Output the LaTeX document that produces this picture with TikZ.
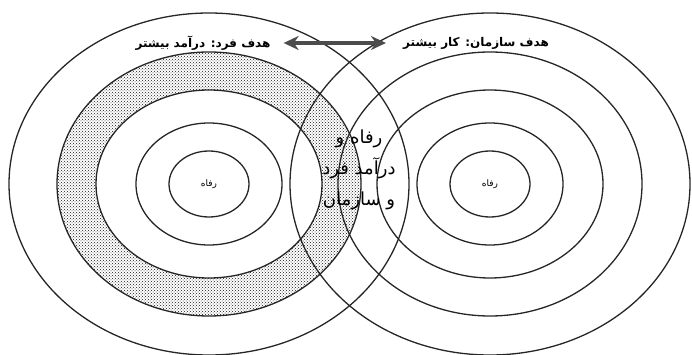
\documentclass[tikz,border=0pt]{standalone}
\usepackage{fontspec}
\newfontfamily\arabicfont[Script=Arabic]{DejaVu Sans}
\TeXXeTstate=1
\usetikzlibrary{arrows.meta, patterns}

\tikzset{
  ring/.style={line width=1.3pt, black!85},
  goal/.style={font=\arabicfont\bfseries\fontsize{12}{14}\selectfont, inner sep=2pt},
  welf/.style={font=\arabicfont\fontsize{9}{10}\selectfont},
  bothways/.style={{Stealth[length=15pt, width=14pt]}-{Stealth[length=15pt, width=14pt]},
    line width=3.8pt, black!70}
}

\begin{document}
\begin{tikzpicture}[x=1pt, y=-1pt]
  \useasboundingbox (0,0) rectangle (692,355);
  \coordinate (cL) at (209,184);
  \coordinate (cR) at (490,184);

  % dotted ring of the left target
  \fill[pattern=crosshatch dots, pattern color=black!90, even odd rule]
    (cL) ellipse [x radius=152, y radius=132]
    (cL) ellipse [x radius=113, y radius=94];

  % concentric rings
  \foreach \rx/\ry in {40/33, 73/61, 113/94, 152/132, 200/171} {
    \draw[ring] (cL) ellipse [x radius=\rx, y radius=\ry];
    \draw[ring] (cR) ellipse [x radius=\rx, y radius=\ry];
  }

  \node[welf] (welfL) at (cL) {\beginR رفاه\endR};
  \node[welf] (welfR) at (cR) {\beginR رفاه\endR};

  \node[goal] (goalP) at (203,43) {\beginR هدف فرد: درآمد بیشتر\endR};
  \node[goal] (goalO) at (476,43) {\beginR هدف سازمان: کار بیشتر\endR};
  \draw[bothways, shorten <=11pt, shorten >=15pt] (goalP.east) -- (goalO.west);

  \node[font=\arabicfont\fontsize{18}{31}\selectfont, align=center] (shared) at (359,170)
    {\beginR رفاه و\endR\\\beginR درآمد فرد\endR\\\beginR و سازمان\endR};
\end{tikzpicture}
\end{document}
